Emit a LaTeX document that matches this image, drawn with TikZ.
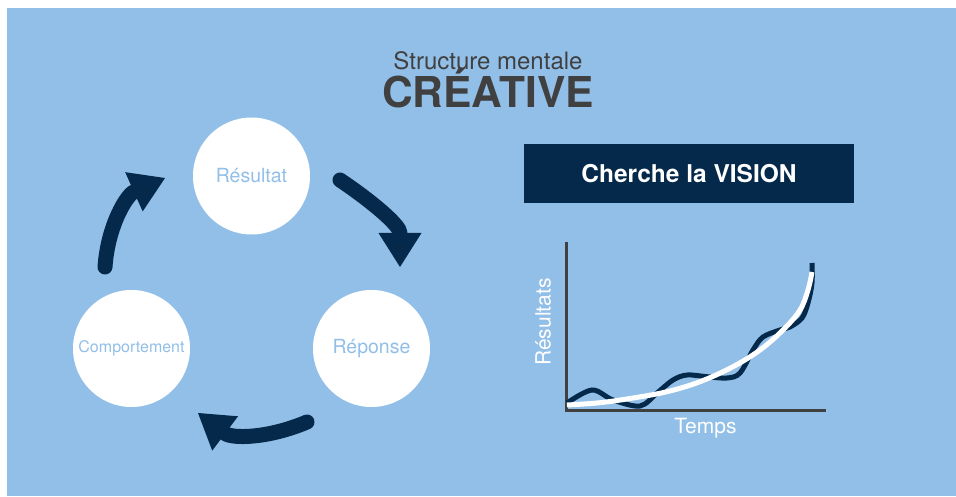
\documentclass[tikz,border=0pt]{standalone}
\usepackage{fontspec}
\setmainfont{TeX Gyre Heros}
\usetikzlibrary{positioning,arrows.meta}
\definecolor{fond}{HTML}{92BFE8}
\definecolor{marine}{HTML}{05294A}
\definecolor{gris}{HTML}{404040}

\begin{document}
\begin{tikzpicture}[x=1pt,y=1pt,
etape/.style={circle, fill=white, minimum size=117pt, inner sep=0pt, text=fond, font=\fontsize{19.5}{22}\selectfont},
fleche/.style={marine, line width=15pt, line cap=round, -{Triangle[length=34pt,width=43pt,line width=0pt]}},
axe/.style={gris, line width=3pt},
legende/.style={text=white, font=\fontsize{21}{24}\selectfont}]

\fill[white] (0,0) rectangle (956,496);
\fill[fond] (7,0) rectangle (956,488);
\useasboundingbox (0,0) rectangle (956,496);

% titre
\node[gris, anchor=base, font=\fontsize{24}{28}\selectfont] (titre) at (488,426) {Structure mentale};
\node[gris, anchor=base, font=\fontsize{42.5}{47}\selectfont\bfseries] (crea) at (488,388) {CRÉATIVE};

% cycle
\node[etape] (res) at (251.5,320) {Résultat};
\node[etape, on grid, below left=172.5pt and 120pt of res, font=\fontsize{16}{19}\selectfont] (comp) {Comportement};
\node[etape, on grid, below right=172.5pt and 120pt of res] (rep) {Réponse};

\coordinate (f1a) at (340,316); \coordinate (f1b) at (400,229);
\coordinate (f2a) at (307,74);  \coordinate (f2b) at (198,83);
\coordinate (f3a) at (105,229); \coordinate (f3b) at (165,318);
\draw[fleche] (f1a) to[out=-34,in=90] (f1b);
\draw[fleche] (f2a) to[out=203,in=-37] (f2b);
\draw[fleche] (f3a) to[out=86,in=204] (f3b);

% vision
\node[fill=marine, text=white, minimum width=330pt, minimum height=59pt, font=\fontsize{24.5}{29}\selectfont\bfseries] (vision) at (689,322.5) {Cherche la VISION};

\coordinate (o) at (566,86);
\coordinate (ymax) at (566,254);
\coordinate (xmax) at (826,86);
\draw[axe] (ymax) |- (xmax);
\draw[marine, line width=5pt] plot[smooth, tension=.55] coordinates {(567,93) (592,106) (613,96) (640,90) (657,103) (673,116) (687,121) (707,119.3) (727,118) (740,123) (753,146) (763,159) (780,166) (790,169) (802,178) (808,193) (812,213) (812,233)};
\draw[white, line width=5pt] plot[smooth, tension=.6] coordinates {(567,91) (600,93.3) (633,98) (667,104.3) (700,114.3) (733,129.3) (760,146) (783,166) (800,186) (808,206) (812,224)};
\node[legende, rotate=90] (ylab) at (543,174) {Résultats};
\node[legende] (xlab) at (705.5,68) {Temps};

\end{tikzpicture}
\end{document}
